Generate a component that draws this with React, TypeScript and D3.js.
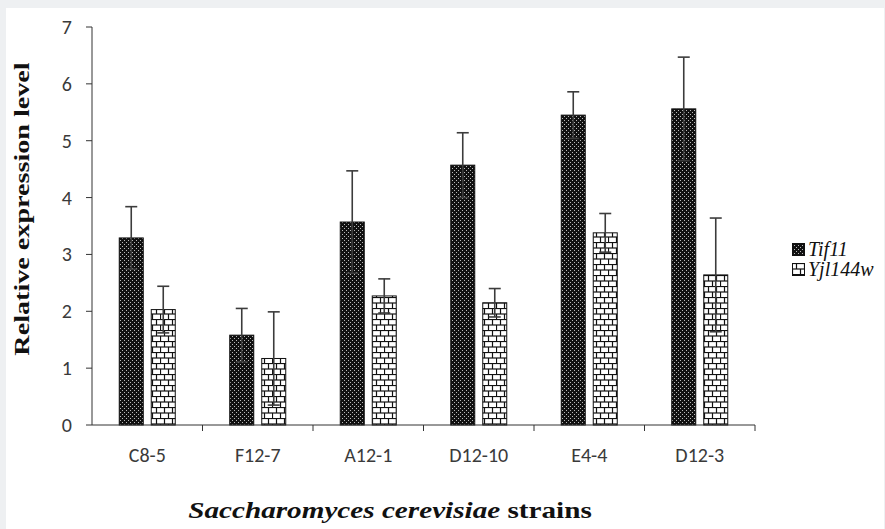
import React from "react";
import * as d3 from "d3";

const strains = ["C8-5", "F12-7", "A12-1", "D12-10", "E4-4", "D12-3"];
const genes = ["Tif11", "Yjl144w"];
const tif11 = [3.29, 1.58, 3.57, 4.57, 5.45, 5.56];
const tif11Err = [0.55, 0.47, 0.9, 0.57, 0.41, 0.91];
const yjl144w = [2.03, 1.17, 2.27, 2.15, 3.38, 2.64];
const yjl144wErr = [0.41, 0.82, 0.3, 0.25, 0.34, 1.0];
const yTicks = [0, 1, 2, 3, 4, 5, 6, 7];

const width = 885;
const height = 529;
const margin = { top: 27, right: 130, bottom: 104, left: 92 };

export default function App() {
  const x = d3
    .scaleBand()
    .domain(strains)
    .range([margin.left, width - margin.right])
    .padding(0);

  const y = d3
    .scaleLinear()
    .domain([0, 7])
    .range([height - margin.bottom, margin.top]);

  const bw = x.bandwidth();
  const sub = d3
    .scaleBand()
    .domain(genes)
    .range([bw / 2 - 28.5, bw / 2 + 28.5])
    .paddingInner(7 / 32);

  const series = [
    { gene: "Tif11", values: tif11, errs: tif11Err, fill: "url(#dots)" },
    { gene: "Yjl144w", values: yjl144w, errs: yjl144wErr, fill: "url(#brick)" },
  ];

  const y0 = y(0);
  const axisColor = "#333";
  const capHalf = 6;
  const tickFont = "Carlito, 'Liberation Sans', sans-serif";
  const serif = "'Liberation Serif', 'Times New Roman', serif";

  return (
    <div style={{ position: "fixed", left: 0, top: 0 }}>
      <svg width={width} height={height} style={{ display: "block" }}>
        <defs>
          <pattern id="dots" width={4} height={4} patternUnits="userSpaceOnUse">
            <rect width={4} height={4} fill="#111" />
            <rect x={0} y={0} width={1} height={1} fill="#bbb" />
            <rect x={2} y={2} width={1} height={1} fill="#bbb" />
          </pattern>
          <pattern id="brick" width={16} height={11} patternUnits="userSpaceOnUse">
            <rect width={16} height={11} fill="#fff" />
            <line x1={0} x2={16} y1={0.5} y2={0.5} stroke="#111" strokeWidth={1.2} />
            <line x1={0} x2={16} y1={6} y2={6} stroke="#111" strokeWidth={1.2} />
            <line x1={4.5} x2={4.5} y1={0} y2={6} stroke="#111" strokeWidth={1.2} />
            <line x1={12.5} x2={12.5} y1={0} y2={6} stroke="#111" strokeWidth={1.2} />
            <line x1={0.5} x2={0.5} y1={6} y2={11} stroke="#111" strokeWidth={1.2} />
            <line x1={8.5} x2={8.5} y1={6} y2={11} stroke="#111" strokeWidth={1.2} />
          </pattern>
        </defs>

        <rect width={width} height={height} fill="#eef0f2" />
        <rect x={6} y={8} width={878} height={height - 8} fill="#fff" />

        {/* bars */}
        {series.map((s) => (
          <g key={s.gene}>
            {strains.map((st, i) => {
              const bx = (x(st) as number) + (sub(s.gene) as number);
              return (
                <rect
                  key={st}
                  x={bx + 0.5}
                  y={y(s.values[i])}
                  width={sub.bandwidth() - 1}
                  height={y0 - y(s.values[i])}
                  fill={s.fill}
                  stroke="#111"
                  strokeWidth={1}
                />
              );
            })}
          </g>
        ))}

        {/* error bars */}
        {series.map((s) => (
          <g key={s.gene + "-err"} stroke="#3c3c3c" strokeWidth={1.6}>
            {strains.map((st, i) => {
              const cx = (x(st) as number) + (sub(s.gene) as number) + sub.bandwidth() / 2;
              const hi = y(s.values[i] + s.errs[i]);
              const lo = y(s.values[i] - s.errs[i]);
              return (
                <g key={st}>
                  <line x1={cx} x2={cx} y1={hi} y2={lo} />
                  <line x1={cx - capHalf} x2={cx + capHalf} y1={hi} y2={hi} />
                  <line x1={cx - capHalf} x2={cx + capHalf} y1={lo} y2={lo} />
                </g>
              );
            })}
          </g>
        ))}

        {/* y axis */}
        <line x1={margin.left} x2={margin.left} y1={y(7)} y2={y0} stroke={axisColor} />
        {yTicks.map((t) => (
          <g key={t}>
            <line x1={margin.left - 6} x2={margin.left} y1={y(t)} y2={y(t)} stroke={axisColor} />
            <text
              x={margin.left - 20}
              y={y(t)}
              dy="0.35em"
              textAnchor="end"
              fontFamily={tickFont}
              fontSize={20}
              fill="#3a3a3a"
            >
              {t}
            </text>
          </g>
        ))}

        {/* x axis */}
        <line x1={margin.left} x2={width - margin.right} y1={y0} y2={y0} stroke={axisColor} />
        {strains.map((st) => (
          <g key={st}>
            <line
              x1={(x(st) as number) + bw}
              x2={(x(st) as number) + bw}
              y1={y0}
              y2={y0 + 6}
              stroke={axisColor}
            />
            <text
              x={(x(st) as number) + bw / 2}
              y={y0 + 37}
              textAnchor="middle"
              fontFamily={tickFont}
              fontSize={20}
              fill="#3a3a3a"
            >
              {st}
            </text>
          </g>
        ))}

        {/* axis titles */}
        <text
          transform="translate(29, 209) rotate(-90) scale(1.28, 1)"
          textAnchor="middle"
          fontFamily={serif}
          fontWeight="bold"
          fontSize={22}
          fill="#111"
        >
          Relative expression level
        </text>
        <text
          transform="translate(390, 518) scale(1.27, 1)"
          textAnchor="middle"
          fontFamily={serif}
          fontWeight="bold"
          fontSize={23}
          fill="#111"
        >
          <tspan fontStyle="italic">Saccharomyces cerevisiae</tspan> strains
        </text>

        {/* legend */}
        {series.map((s, i) => (
          <g key={s.gene + "-leg"} transform={`translate(792, ${243 + i * 20})`}>
            <rect x={0.5} y={0.5} width={12} height={12} fill={s.fill} stroke="#111" />
            <text x={16} y={13} fontFamily={serif} fontStyle="italic" fontSize={20} fill="#111">
              {s.gene}
            </text>
          </g>
        ))}
      </svg>
    </div>
  );
}
